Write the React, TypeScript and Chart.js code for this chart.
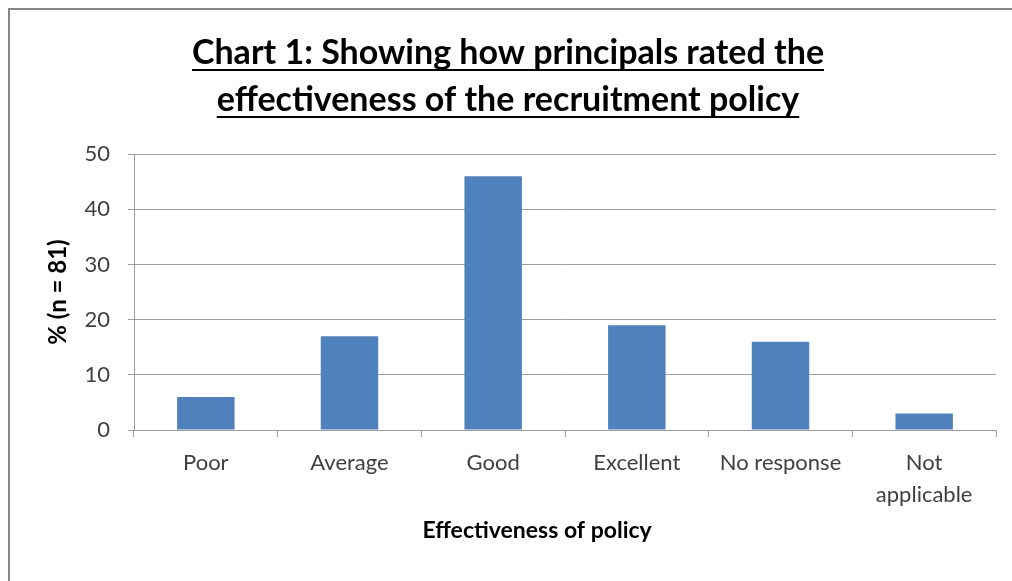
import { useEffect, useRef } from 'react';
import { Chart, registerables } from 'chart.js';

Chart.register(...registerables);

const categories: (string | string[])[] = ['Poor', 'Average', 'Good', 'Excellent', 'No response', ['Not', 'applicable']];
const percentages = [6, 17, 46, 19, 16, 3];
const titleLines = ['Chart 1: Showing how principals rated the', 'effectiveness of the recruitment policy'];
const yAxisTitle = '% (n = 81)';
const xAxisTitle = 'Effectiveness of policy';
const yMin = 0;
const yMax = 50;
const yStep = 10;

const FONT = 'Lato, "Liberation Sans", sans-serif';
const TITLE_SIZE = 34;
const TITLE_LH = 1.37;
const TITLE_PAD_TOP = 20;

const underlinePlugin = {
  id: 'titleUnderline',
  afterDraw(chart: any) {
    const tb = chart.titleBlock;
    if (!tb) return;
    const ctx = chart.ctx;
    ctx.save();
    ctx.font = `bold ${TITLE_SIZE}px ${FONT}`;
    ctx.strokeStyle = '#000';
    ctx.lineWidth = 2;
    const lh = TITLE_SIZE * TITLE_LH;
    const cx = (tb.left + tb.right) / 2;
    titleLines.forEach((line, i) => {
      const w = ctx.measureText(line).width;
      const y = Math.round(tb.top + TITLE_PAD_TOP + lh / 2 + i * lh + 17);
      ctx.beginPath();
      ctx.moveTo(cx - w / 2, y);
      ctx.lineTo(cx + w / 2, y);
      ctx.stroke();
    });
    ctx.restore();
  },
};

export default function App() {
  const ref = useRef<HTMLCanvasElement | null>(null);

  useEffect(() => {
    if (!ref.current) return;
    const chart = new Chart(ref.current, {
      type: 'bar',
      data: {
        labels: categories as any,
        datasets: [
          {
            data: percentages,
            backgroundColor: '#4f81bd',
            borderWidth: 0,
            barPercentage: 0.4,
            categoryPercentage: 1,
          },
        ],
      },
      options: {
        responsive: false,
        animation: false,
        layout: { padding: { left: 10, right: 16, top: 0, bottom: 0 } },
        plugins: {
          legend: { display: false },
          tooltip: { enabled: false },
          title: {
            display: true,
            text: titleLines,
            color: '#000',
            font: { family: FONT, size: TITLE_SIZE, weight: 'bold', lineHeight: TITLE_LH },
            padding: { top: TITLE_PAD_TOP, bottom: 31 },
          },
        },
        scales: {
          x: {
            grid: {
              display: true,
              drawOnChartArea: false,
              drawTicks: true,
              tickLength: 7,
              offset: true,
              color: '#9d9d9d',
            },
            border: { color: '#9d9d9d' },
            ticks: {
              color: '#404040',
              padding: 10,
              maxRotation: 0,
              autoSkip: false,
              font: { family: FONT, size: 22, lineHeight: 1.45 },
            },
            title: {
              display: true,
              text: xAxisTitle + '          ',
              color: '#000',
              font: { family: FONT, size: 23, weight: 'bold', lineHeight: 1.2 },
              padding: { top: 0, bottom: 37 },
            },
            afterFit: (s: any) => {
              s.height = 151;
            },
          },
          y: {
            min: yMin,
            max: yMax,
            grid: { color: '#9d9d9d', tickLength: 6, drawTicks: true },
            border: { color: '#9d9d9d' },
            ticks: {
              stepSize: yStep,
              color: '#404040',
              padding: 18,
              font: { family: FONT, size: 22 },
            },
            title: {
              display: true,
              text: yAxisTitle,
              color: '#000',
              font: { family: FONT, size: 24, weight: 'bold', lineHeight: 1.2 },
              padding: { top: 24, bottom: 0 },
            },
            afterFit: (s: any) => {
              s.width = 114;
            },
          },
        },
      },
      plugins: [underlinePlugin],
    });
    return () => chart.destroy();
  }, []);

  return (
    <div
      style={{
        position: 'fixed',
        left: 8,
        top: 8,
        width: 1002,
        height: 571,
        borderTop: '2px solid #868686',
        borderLeft: '2px solid #868686',
        background: '#fff',
      }}
    >
      <canvas ref={ref} width={1002} height={571} style={{ display: 'block', width: 1002, height: 571 }} />
    </div>
  );
}
